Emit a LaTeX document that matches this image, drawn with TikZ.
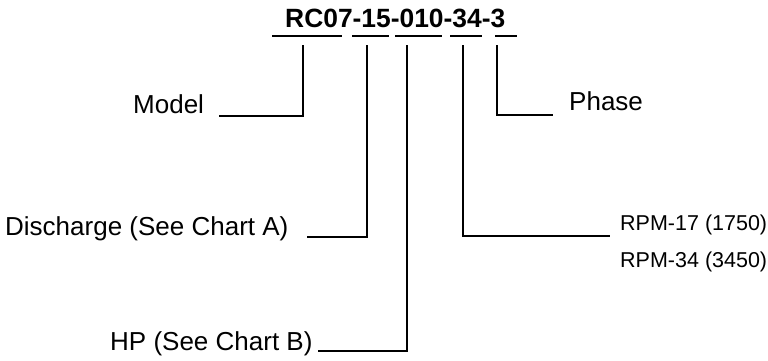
\documentclass[tikz,border=0pt]{standalone}
\usepackage{fontspec}
\setmainfont{Liberation Sans}
\begin{document}
\begin{tikzpicture}[x=1pt,y=-1pt,
  lbl/.style={inner sep=0pt,anchor=base west,font=\fontsize{26}{30}\selectfont},
  small/.style={inner sep=0pt,anchor=base west,font=\fontsize{21.5}{25}\selectfont},
  code/.style={inner sep=0pt,anchor=base west,font=\fontsize{26.4}{30}\selectfont\bfseries},
  uline/.style={line width=1.6pt},
  lead/.style={line width=1.3pt}]
\useasboundingbox (0,0) rectangle (768,360);
% code
\node[code] (code) at (285,27) {RC07-15-010-34-3};
% underlines
\draw[uline] (272,36) coordinate (u1a) -- (342,36) coordinate (u1b);
\draw[uline] (352,36) coordinate (u2a) -- (389,36) coordinate (u2b);
\draw[uline] (395,36) coordinate (u3a) -- (442,36) coordinate (u3b);
\draw[uline] (450,36) coordinate (u4a) -- (482,36) coordinate (u4b);
\draw[uline] (495,36) coordinate (u5a) -- (517,36) coordinate (u5b);
% labels
\node[lbl] (model) at (133,113) {Model};
\node[lbl] (phase) at (569,110) {Phase};
\node[lbl] (disch) at (5,235) {Discharge (See Chart A)};
\node[lbl] (hp) at (110,350) {HP (See Chart B)};
\node[small] (rpm1) at (620,230) {RPM-17 (1750)};
\node[small] (rpm2) at (620,267) {RPM-34 (3450)};
% leader coordinates
\coordinate (mTop) at (303,45);   \coordinate (mCor) at (303,116); \coordinate (mEnd) at (219,116);
\coordinate (dTop) at (367,45);   \coordinate (dCor) at (367,237); \coordinate (dEnd) at (307,237);
\coordinate (hTop) at (407,45);   \coordinate (hCor) at (407,351); \coordinate (hEnd) at (318,351);
\coordinate (rTop) at (463,45);   \coordinate (rCor) at (463,236); \coordinate (rEnd) at (610,236);
\coordinate (pTop) at (497,45);   \coordinate (pCor) at (497,115); \coordinate (pEnd) at (553,115);
\draw[lead] (mTop) -- (mCor) -- (mEnd);
\draw[lead] (dTop) -- (dCor) -- (dEnd);
\draw[lead] (hTop) -- (hCor) -- (hEnd);
\draw[lead] (rTop) -- (rCor) -- (rEnd);
\draw[lead] (pTop) -- (pCor) -- (pEnd);
\end{tikzpicture}
\end{document}
